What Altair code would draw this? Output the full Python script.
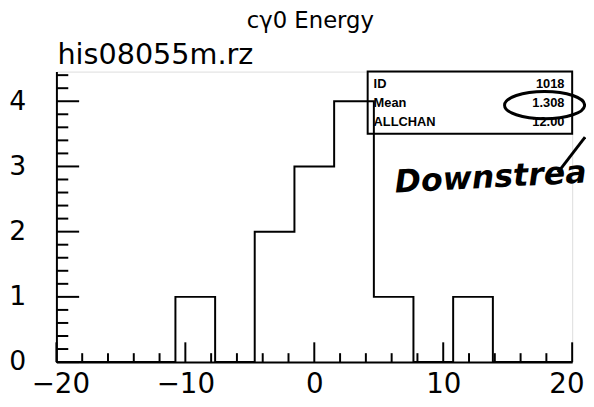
import altair as alt
import pandas as pd

# ---- data ----
bin_lo = [-20.0, -16.92, -13.85, -10.77, -7.69, -4.62, -1.54, 1.54, 4.62, 7.69, 10.77, 13.85, 16.92]
x_max = 20.0
counts = [0, 0, 0, 1, 0, 2, 3, 4, 1, 0, 1, 0, 0]

x_major = [-20, -10, 0, 10, 20]
x_minor = [-18, -16, -14, -12, -8, -6, -4, -2, 2, 4, 6, 8, 12, 14, 16, 18]
y_major = [0, 1, 2, 3, 4]
y_minor = [0.2, 0.4, 0.6, 0.8, 1.2, 1.4, 1.6, 1.8, 2.2, 2.4, 2.6, 2.8,
           3.2, 3.4, 3.6, 3.8, 4.2, 4.4]

stat_names = ["ID", "Mean", "ALLCHAN"]
stat_values = ["1018", "1.308", "12.00"]
stat_rows = [4.27, 3.97, 3.68]

title_text = "c\u03b30 Energy"
file_text = "his08055m.rz"
note_text = "Downstrea"

# ---- scales and axes ----
X_DOM = [-20, 20]
Y_DOM = [0, 4.4545]
xs = alt.Scale(domain=X_DOM, nice=False, zero=False)
ys = alt.Scale(domain=Y_DOM, nice=False, zero=False)
xa = alt.Axis(values=x_major, title=None, ticks=False, grid=False,
              labelFont="DejaVu Sans", labelFontSize=28,
              labelColor="black", labelPadding=9,
              labelFlush=False, domainColor="black",
              domainWidth=2, labelOverlap=False, format="d",
              labelAlign={"condition": {"test": "datum.value == 20", "value": "right"},
                          "value": "center"},
              labelOffset={"condition": [{"test": "datum.value == 20", "value": 12},
                                         {"test": "datum.value == -20", "value": 4}],
                           "value": 0})
ya = alt.Axis(values=y_major, title=None, ticks=False, grid=False,
              labelFont="DejaVu Sans", labelFontSize=27,
              labelColor="black", labelPadding=31,
              labelFlush=False, domainColor="black",
              domainWidth=2, labelOverlap=False, format="d")


def X(field):
    return alt.X(field, scale=xs, axis=xa)


def Y(field):
    return alt.Y(field, scale=ys, axis=ya)


hist_df = pd.DataFrame({"x": bin_lo + [x_max], "y": counts + [counts[-1]]})

hist = alt.Chart(hist_df).mark_line(
    interpolate="step-after", color="black", strokeWidth=2
).encode(x=X("x:Q"), y=Y("y:Q"))

# inward ticks
xt_major = alt.Chart(pd.DataFrame({"t": x_major})).mark_rule(
    color="black", strokeWidth=2).encode(
    x=X("t:Q"), y=alt.value(294), y2=alt.value(274))
xt_minor = alt.Chart(pd.DataFrame({"t": x_minor})).mark_rule(
    color="black", strokeWidth=2).encode(
    x=X("t:Q"), y=alt.value(294), y2=alt.value(285))
yt_major = alt.Chart(pd.DataFrame({"t": y_major})).mark_rule(
    color="black", strokeWidth=2).encode(
    y=Y("t:Q"), x=alt.value(0), x2=alt.value(23))
yt_minor = alt.Chart(pd.DataFrame({"t": y_minor})).mark_rule(
    color="black", strokeWidth=2).encode(
    y=Y("t:Q"), x=alt.value(0), x2=alt.value(12))

# statistics box
box_df = pd.DataFrame({"x0": [4.14], "x1": [20.0], "y0": [3.5], "y1": [Y_DOM[1]]})
box = alt.Chart(box_df).mark_rect(
    fillOpacity=0, stroke="black", strokeWidth=2).encode(
    x=X("x0:Q"), x2="x1:Q", y=Y("y0:Q"), y2="y1:Q")

stats_df = pd.DataFrame({"name": stat_names, "val": stat_values, "row": stat_rows,
                         "xl": [4.6] * 3, "xr": [19.4] * 3})
stat_lab = alt.Chart(stats_df).mark_text(
    align="left", baseline="middle", font="Liberation Sans", fontWeight="bold",
    fontSize=13, color="black").encode(
    x=X("xl:Q"), y=Y("row:Q"), text="name:N")
stat_val = alt.Chart(stats_df).mark_text(
    align="right", baseline="middle", font="Liberation Sans", fontWeight="bold",
    fontSize=13, color="black").encode(
    x=X("xr:Q"), y=Y("row:Q"), text="val:N")

# hand-drawn ellipse around the mean
ell_df = pd.DataFrame({"x": [17.86], "y": [3.94]})
ellipse = alt.Chart(ell_df).mark_point(
    shape="M -1 0 A 1 0.34 0 1 0 1 0 A 1 0.34 0 1 0 -1 0 Z",
    size=6561, filled=False, opacity=1, color="black", strokeWidth=3).encode(
    x=X("x:Q"), y=Y("y:Q"))

# handwritten note
note_df = pd.DataFrame({"x": [6.28], "y": [2.6], "t": [note_text]})
note = alt.Chart(note_df).mark_text(
    align="left", baseline="alphabetic", font="DejaVu Sans", fontStyle="italic",
    fontWeight="bold", fontSize=32, color="black", angle=357).encode(
    x=X("x:Q"), y=Y("y:Q"), text="t:N")
stroke_df = pd.DataFrame({"x": [18.9], "y": [2.91], "x2": [21.0], "y2": [3.45]})
pen = alt.Chart(stroke_df).mark_rule(color="black", strokeWidth=3, clip=False).encode(
    x=X("x:Q"), y=Y("y:Q"), x2="x2:Q", y2="y2:Q")

# titles
title = alt.Chart(pd.DataFrame({"t": [title_text]})).mark_text(
    align="center", baseline="alphabetic", font="DejaVu Sans", fontSize=23,
    color="black").encode(x=alt.value(257), y=alt.value(-44), text="t:N")
fname = alt.Chart(pd.DataFrame({"t": [file_text]})).mark_text(
    align="left", baseline="alphabetic", font="DejaVu Sans", fontSize=29,
    color="black").encode(x=alt.value(1), y=alt.value(-8), text="t:N")

chart = alt.layer(
    box, hist, xt_major, xt_minor, yt_major, yt_minor,
    stat_lab, stat_val, ellipse, note, pen, title, fname
).properties(
    width=522, height=294,
    autosize=alt.AutoSizeParams(type="none"),
    padding={"left": 49, "top": 62, "right": 14, "bottom": 35},
).configure_view(stroke="black", strokeWidth=2).configure(background="white")

chart.save("out.html", embed_options={"renderer": "svg", "actions": False})
